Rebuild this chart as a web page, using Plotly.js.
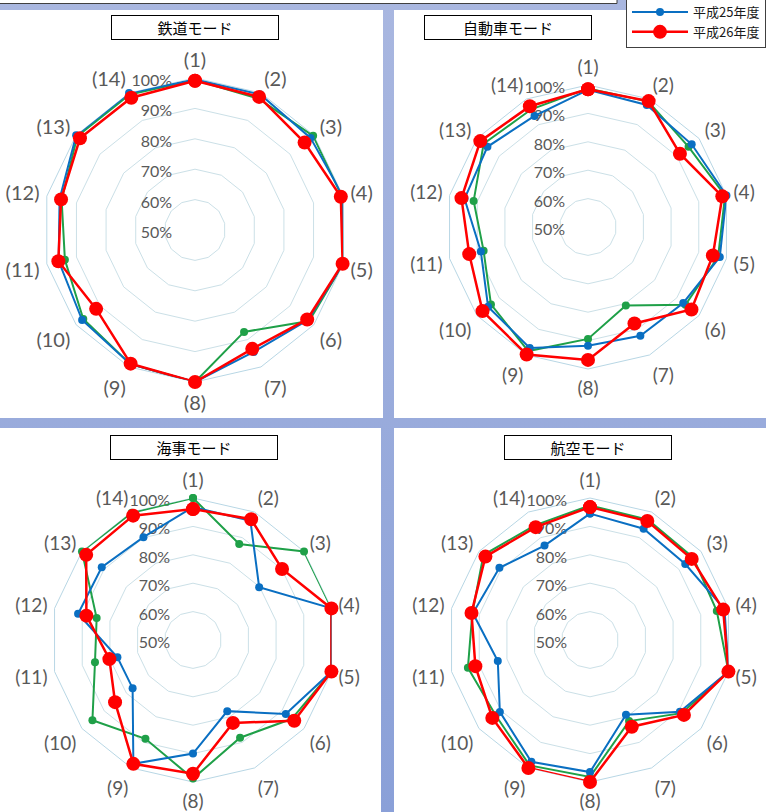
<!DOCTYPE html>
<html>
<head>
<meta charset="utf-8">
<script src="https://cdn.plot.ly/plotly-3.0.1.min.js"></script>
<style>
html,body{margin:0;padding:0;}
body{width:766px;height:812px;background:linear-gradient(#a9b7e0,#8aa0d8);overflow:hidden;}
#chart{width:766px;height:812px;}
</style>
</head>
<body>
<div id="chart"></div>
<script>
// ---- data ----
const labels = ['(1)','(2)','(3)','(4)','(5)','(6)','(7)','(8)','(9)','(10)','(11)','(12)','(13)','(14)'];
const seriesNames = ['平成24年度','平成25年度','平成26年度'];
const chartTitles = ['鉄道モード','自動車モード','海事モード','航空モード'];
const radialTicks = [50,60,70,80,90,100];
const radialTickText = ['50%','60%','70%','80%','90%','100%'];

const rail_h24 = [99.3, 98.0, 99.7, 99.6, 100, 98.0, 87.2, 100, 99.0, 97.0, 93.9, 95.0, 99.5, 99.5];
const rail_h25 = [99.5, 99.5, 98.6, 100, 100, 97.5, 94.5, 100, 99.0, 97.5, 96.0, 95.7, 100, 100];
const rail_h26 = [99.1, 98.6, 96.1, 99.2, 99.8, 97.2, 93.4, 100, 98.8, 91.6, 96.1, 95.2, 98.4, 98.3];

const car_h24 = [98.8, 99.0, 95.3, 99.5, 97.0, 93.9, 80.7, 89.4, 98.5, 93.7, 87.7, 91.3, 97.0, 96.0];
const car_h25 = [98.3, 97.7, 96.7, 100, 97.6, 92.9, 92.5, 91.8, 97.3, 95.0, 88.7, 94.6, 95.3, 93.4];
const car_h26 = [98.5, 99.2, 91.4, 98.5, 95.1, 96.6, 87.7, 96.8, 99.8, 97.5, 92.9, 95.7, 98.5, 97.2];

const sea_h24 = [100, 87.5, 100, 100, 100, 94.5, 88.2, 98.8, 88.6, 95.3, 85.4, 84.8, 100, 99.7];
const sea_h25 = [96.8, 96.6, 79.8, 100, 100, 91.8, 77.8, 90.0, 98.4, 77.2, 77.3, 91.5, 91.1, 90.2];
const sea_h26 = [96.1, 97.2, 90.1, 100, 100, 95.6, 82.4, 97.1, 98.4, 85.1, 80.2, 88.5, 98.1, 98.6];

const air_h24 = [97.4, 97.0, 96.5, 95.8, 100, 91.3, 81.7, 98.2, 99.0, 92.5, 94.1, 92.5, 98.0, 94.8];
const air_h25 = [94.5, 93.5, 92.9, 98.6, 100, 90.5, 79.2, 96.5, 97.6, 90.6, 83.3, 92.3, 90.8, 86.9];
const air_h26 = [96.8, 96.5, 95.8, 98.1, 100, 92.3, 83.9, 100, 100, 94.0, 91.4, 92.8, 97.1, 94.1];

// ---- layout helpers ----
const W = 766, H = 812;
const FONT = 'Lato, "Noto Sans CJK JP", sans-serif';
const JFONT = '"Noto Sans CJK JP", sans-serif';
const colors = ['#1fa048', '#0a6fc2', '#ff0000'];
const lineW = [2, 2, 2.5];
const markS = [8, 8, 14];
const inLegend = [false, true, true];

function px(x){ return x / W; }
function py(y){ return 1 - y / H; }
function dom(cx, cy, R){ return {x:[px(cx-R), px(cx+R)], y:[py(cy+R), py(cy-R)]}; }

const charts = [
  {data:[rail_h24, rail_h25, rail_h26], cx:195, cy:230, R:152, fa:20, fr:16, tx:195, ty:28},
  {data:[car_h24, car_h25, car_h26],   cx:588, cy:227, R:142, fa:19, fr:16, tx:508, ty:27},
  {data:[sea_h24, sea_h25, sea_h26],   cx:193, cy:640, R:142, fa:19, fr:16, tx:194, ty:447},
  {data:[air_h24, air_h25, air_h26],   cx:590, cy:640, R:142, fa:19, fr:16, tx:588, ty:447}
];

const close = a => a.concat([a[0]]);
const traces = [];
const layout = {
  width: W, height: H,
  margin: {l:0, r:0, t:0, b:0, autoexpand:false},
  paper_bgcolor: 'rgba(0,0,0,0)',
  plot_bgcolor: 'rgba(0,0,0,0)',
  showlegend: true,
  legend: {
    x: px(626), y: py(-4), xanchor:'left', yanchor:'top',
    bgcolor:'#ffffff', bordercolor:'#404040', borderwidth:1,
    font:{family:JFONT, size:13, color:'#1a1a1a'},
    tracegroupgap:0, itemwidth:56
  },
  shapes: [
    {type:'rect', xref:'paper', yref:'paper', x0:px(-2), x1:px(617), y0:py(3.5), y1:py(-10), fillcolor:'#ffffff', line:{color:'#404040', width:1}, layer:'below'},
    {type:'rect', xref:'paper', yref:'paper', x0:px(0), x1:px(383), y0:py(418), y1:py(10), fillcolor:'#ffffff', line:{width:0}, layer:'below'},
    {type:'rect', xref:'paper', yref:'paper', x0:px(394), x1:px(766), y0:py(418), y1:py(10), fillcolor:'#ffffff', line:{width:0}, layer:'below'},
    {type:'rect', xref:'paper', yref:'paper', x0:px(0), x1:px(381), y0:py(812), y1:py(428), fillcolor:'#ffffff', line:{width:0}, layer:'below'},
    {type:'rect', xref:'paper', yref:'paper', x0:px(394), x1:px(766), y0:py(812), y1:py(428), fillcolor:'#ffffff', line:{width:0}, layer:'below'}
  ],
  annotations: []
};

charts.forEach((c, i) => {
  const pid = i === 0 ? 'polar' : 'polar' + (i + 1);
  layout[pid] = {
    domain: dom(c.cx, c.cy, c.R),
    bgcolor: 'rgba(0,0,0,0)',
    gridshape: 'linear',
    radialaxis: {
      range: [50, 100], tickvals: radialTicks, ticktext: radialTickText,
      showline: false, gridcolor: '#cbe0e7', gridwidth: 1,
      tickfont: {family: FONT, size: c.fr, color: '#595959'},
      ticks: 'outside', ticklen: 8, tickcolor: 'rgba(0,0,0,0)',
      angle: 90, side: 'counterclockwise', layer: 'below traces'
    },
    angularaxis: {
      type: 'category', categoryarray: labels, direction: 'clockwise', rotation: 90,
      showgrid: false, showline: true, linecolor: '#b8d7e5', linewidth: 1,
      tickfont: {family: FONT, size: c.fa, color: '#595959'},
      ticks: 'outside', ticklen: 3, tickcolor: 'rgba(0,0,0,0)', layer: 'below traces'
    }
  };
  c.data.forEach((vals, s) => {
    traces.push({
      type: 'scatterpolar', subplot: pid,
      r: close(vals), theta: close(labels),
      mode: 'lines+markers', name: seriesNames[s], legendgroup: 's' + s,
      showlegend: i === 0 && inLegend[s],
      line: {color: colors[s], width: lineW[s]},
      marker: {color: colors[s], size: markS[s]},
      hoverinfo: 'skip'
    });
  });
  layout.annotations.push({
    xref: 'paper', yref: 'paper', x: px(c.tx), y: py(c.ty), xanchor: 'center', yanchor: 'middle',
    text: chartTitles[i], showarrow: false,
    font: {family: JFONT, size: 15, color: '#000000'},
    bgcolor: '#ffffff', bordercolor: '#000000', borderwidth: 1, borderpad: 1,
    width: 164, height: 21
  });
});

Plotly.newPlot('chart', traces, layout, {displayModeBar: false, staticPlot: true});
</script>
</body>
</html>
